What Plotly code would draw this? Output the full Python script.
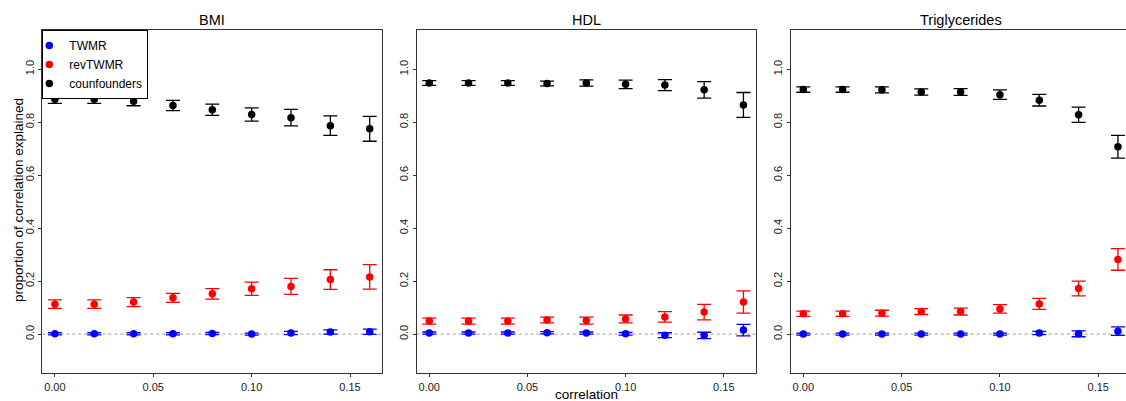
import plotly.graph_objects as go

correlation = [0.00, 0.02, 0.04, 0.06, 0.08, 0.10, 0.12, 0.14, 0.16]
panels = ["BMI", "HDL", "Triglycerides"]
series_names = ["TWMR", "revTWMR", "counfounders"]
series_colors = ["#0000FF", "#FF0000", "#000000"]

# BMI
bmi_twmr = [0.001, 0.001, 0.001, 0.001, 0.002, 0.000, 0.004, 0.008, 0.009]
bmi_twmr_err = [0.004, 0.004, 0.004, 0.004, 0.004, 0.004, 0.006, 0.008, 0.010]
bmi_rev = [0.113, 0.113, 0.121, 0.137, 0.152, 0.171, 0.180, 0.206, 0.216]
bmi_rev_err = [0.016, 0.016, 0.017, 0.017, 0.020, 0.025, 0.030, 0.037, 0.046]
bmi_conf = [0.887, 0.887, 0.879, 0.863, 0.847, 0.829, 0.817, 0.787, 0.775]
bmi_conf_err = [0.016, 0.016, 0.017, 0.019, 0.021, 0.025, 0.031, 0.037, 0.047]

# HDL
hdl_twmr = [0.004, 0.004, 0.004, 0.005, 0.004, 0.001, -0.004, -0.005, 0.015]
hdl_twmr_err = [0.004, 0.004, 0.004, 0.004, 0.004, 0.005, 0.009, 0.012, 0.022]
hdl_rev = [0.049, 0.049, 0.049, 0.053, 0.051, 0.057, 0.065, 0.083, 0.121]
hdl_rev_err = [0.011, 0.011, 0.011, 0.011, 0.013, 0.015, 0.020, 0.029, 0.042]
hdl_conf = [0.948, 0.948, 0.948, 0.946, 0.948, 0.943, 0.940, 0.922, 0.865]
hdl_conf_err = [0.009, 0.009, 0.009, 0.009, 0.012, 0.016, 0.021, 0.031, 0.047]

# Triglycerides
tg_twmr = [0.000, 0.000, 0.000, 0.000, 0.000, 0.000, 0.004, 0.001, 0.011]
tg_twmr_err = [0.004, 0.004, 0.004, 0.004, 0.004, 0.004, 0.006, 0.011, 0.016]
tg_rev = [0.077, 0.077, 0.079, 0.085, 0.085, 0.095, 0.114, 0.172, 0.282]
tg_rev_err = [0.010, 0.010, 0.011, 0.011, 0.013, 0.016, 0.021, 0.028, 0.041]
tg_conf = [0.923, 0.923, 0.922, 0.914, 0.914, 0.904, 0.883, 0.828, 0.707]
tg_conf_err = [0.010, 0.010, 0.011, 0.012, 0.013, 0.018, 0.022, 0.029, 0.043]

panel_data = [
    [(bmi_twmr, bmi_twmr_err), (bmi_rev, bmi_rev_err), (bmi_conf, bmi_conf_err)],
    [(hdl_twmr, hdl_twmr_err), (hdl_rev, hdl_rev_err), (hdl_conf, hdl_conf_err)],
    [(tg_twmr, tg_twmr_err), (tg_rev, tg_rev_err), (tg_conf, tg_conf_err)],
]

x_ticks = [0.00, 0.05, 0.10, 0.15]
x_tick_labels = ["0.00", "0.05", "0.10", "0.15"]
y_ticks = [0.0, 0.2, 0.4, 0.6, 0.8, 1.0]
y_tick_labels = ["0.0", "0.2", "0.4", "0.6", "0.8", "1.0"]

W, H = 1126, 401
FONT = "Liberation Sans, Arial, Helvetica, sans-serif"


def px_x(v):
    return v / W


def px_y(v):
    return (H - v) / H


# panel 3 is cut by the right edge of the picture, as in the original
panel_px = [(42.3, 382.3), (416.7, 756.0), (790.7, 1126.0)]
x_domains = [[px_x(a), px_x(b)] for a, b in panel_px]
x_ranges = [[-0.0064, 0.1664], [-0.0064, 0.1664], [-0.0064, 0.1641]]
y_domain = [px_y(373.3), px_y(30.0)]
y_range = [-0.148, 1.148]

fig = go.Figure()

for p in range(3):
    xa = "x" if p == 0 else f"x{p+1}"
    ya = "y" if p == 0 else f"y{p+1}"
    fig.add_shape(type="line", xref=f"{xa} domain", yref=ya,
                  x0=0, x1=1, y0=0, y1=0,
                  line=dict(color="#9a9a9a", width=1, dash="3px,3px"), layer="below")
    for s in range(3):
        vals, errs = panel_data[p][s]
        fig.add_trace(go.Scatter(
            x=correlation, y=vals, mode="markers",
            name=series_names[s],
            marker=dict(color=series_colors[s], size=7.5),
            error_y=dict(type="data", array=errs, visible=True,
                         color=series_colors[s], thickness=1.3, width=7),
            xaxis=xa, yaxis=ya,
            showlegend=(p == 0),
            legendrank=s + 1,
            cliponaxis=False,
        ))

axis_common = dict(showline=True, linecolor="#333333", linewidth=1,
                   ticks="outside", ticklen=3, tickcolor="#333333",
                   showgrid=False, zeroline=False,
                   tickfont=dict(family=FONT, size=11, color="#222222"))

layout = dict(
    width=W, height=H,
    margin=dict(l=0, r=0, t=0, b=0),
    paper_bgcolor="white", plot_bgcolor="white",
    font=dict(family=FONT, color="#000000"),
    showlegend=True,
    hovermode=False,
    legend=dict(x=x_domains[0][0], y=y_domain[1], xanchor="left", yanchor="top",
                bgcolor="white", bordercolor="#000000", borderwidth=1,
                font=dict(family=FONT, size=12, color="#000000"),
                itemwidth=30, tracegroupgap=0, itemsizing="trace",
                indentation=-14),
)

for p in range(3):
    xk = "xaxis" if p == 0 else f"xaxis{p+1}"
    yk = "yaxis" if p == 0 else f"yaxis{p+1}"
    ya_anchor = "y" if p == 0 else f"y{p+1}"
    xa_anchor = "x" if p == 0 else f"x{p+1}"
    layout[xk] = dict(axis_common, domain=x_domains[p], range=x_ranges[p],
                      anchor=ya_anchor, tickvals=x_ticks, ticktext=x_tick_labels,
                      mirror=True)
    layout[yk] = dict(axis_common, domain=y_domain, range=y_range,
                      anchor=xa_anchor, tickvals=y_ticks, ticktext=y_tick_labels,
                      tickangle=-90, mirror=(p < 2))

fig.update_layout(**layout)

annotations = []
title_centers = [(42.3 + 382.3) / 2, (416.7 + 756.0) / 2, (790.7 + 1130.7) / 2]
for p in range(3):
    annotations.append(dict(text=panels[p], xref="paper", yref="paper",
                            x=px_x(title_centers[p]),
                            y=px_y(20), xanchor="center", yanchor="middle",
                            showarrow=False, font=dict(family=FONT, size=14.5, color="#000000")))
annotations.append(dict(text="correlation", xref="paper", yref="paper",
                        x=px_x(title_centers[1]), y=px_y(394),
                        xanchor="center", yanchor="middle", showarrow=False,
                        font=dict(family=FONT, size=13.5, color="#000000")))
annotations.append(dict(text="proportion of correlation explained", xref="paper", yref="paper",
                        x=px_x(18), y=px_y(200), xanchor="center", yanchor="middle",
                        textangle=-90, showarrow=False,
                        font=dict(family=FONT, size=13.5, color="#000000")))
fig.update_layout(annotations=annotations)

fig.write_html(
    "out.html",
    config={"displayModeBar": False},
    post_script="document.body.style.margin='0';document.body.style.overflow='hidden';",
)
